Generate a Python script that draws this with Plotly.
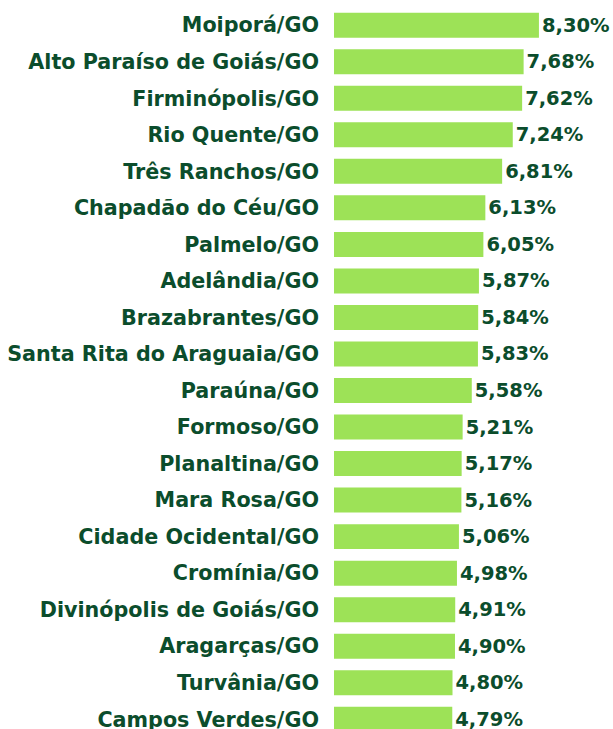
import plotly.graph_objects as go

municipios = [
    "Moiporá/GO", "Alto Paraíso de Goiás/GO", "Firminópolis/GO", "Rio Quente/GO",
    "Três Ranchos/GO", "Chapadão do Céu/GO", "Palmelo/GO", "Adelândia/GO",
    "Brazabrantes/GO", "Santa Rita do Araguaia/GO", "Paraúna/GO", "Formoso/GO",
    "Planaltina/GO", "Mara Rosa/GO", "Cidade Ocidental/GO", "Cromínia/GO",
    "Divinópolis de Goiás/GO", "Aragarças/GO", "Turvânia/GO", "Campos Verdes/GO",
]
valores = [8.30, 7.68, 7.62, 7.24, 6.81, 6.13, 6.05, 5.87, 5.84, 5.83,
           5.58, 5.21, 5.17, 5.16, 5.06, 4.98, 4.91, 4.90, 4.80, 4.79]

bar_color = "#9de257"
text_color = "#0b4d2c"
font_family = "DejaVu Sans, Liberation Sans, Arial, sans-serif"

fig = go.Figure(go.Bar(
    x=valores,
    y=municipios,
    orientation="h",
    marker=dict(color=bar_color, line=dict(width=0)),
    width=0.684,
    texttemplate="%{x:.2f}%",
    textposition="outside",
    cliponaxis=False,
    hoverinfo="skip",
    textfont=dict(family=font_family, size=19.5, color=text_color, weight="bold"),
))

fig.update_layout(
    width=613, height=729,
    margin=dict(l=334, r=0, t=0, b=0),
    paper_bgcolor="white", plot_bgcolor="white",
    separators=",.",
    showlegend=False,
    font=dict(family=font_family, size=20, color=text_color),
    xaxis=dict(range=[0, 11.3], visible=False),
    yaxis=dict(
        range=[19.266, -0.69],
        automargin=False,
        showgrid=False, zeroline=False, showline=False,
        ticks="", ticklabelstandoff=14,
        tickfont=dict(family=font_family, size=20.7, color=text_color, weight="bold"),
    ),
)

fig.write_html(
    "out.html",
    config={"displayModeBar": False},
    post_script="document.body.style.margin='0';document.body.style.overflow='hidden';",
)
